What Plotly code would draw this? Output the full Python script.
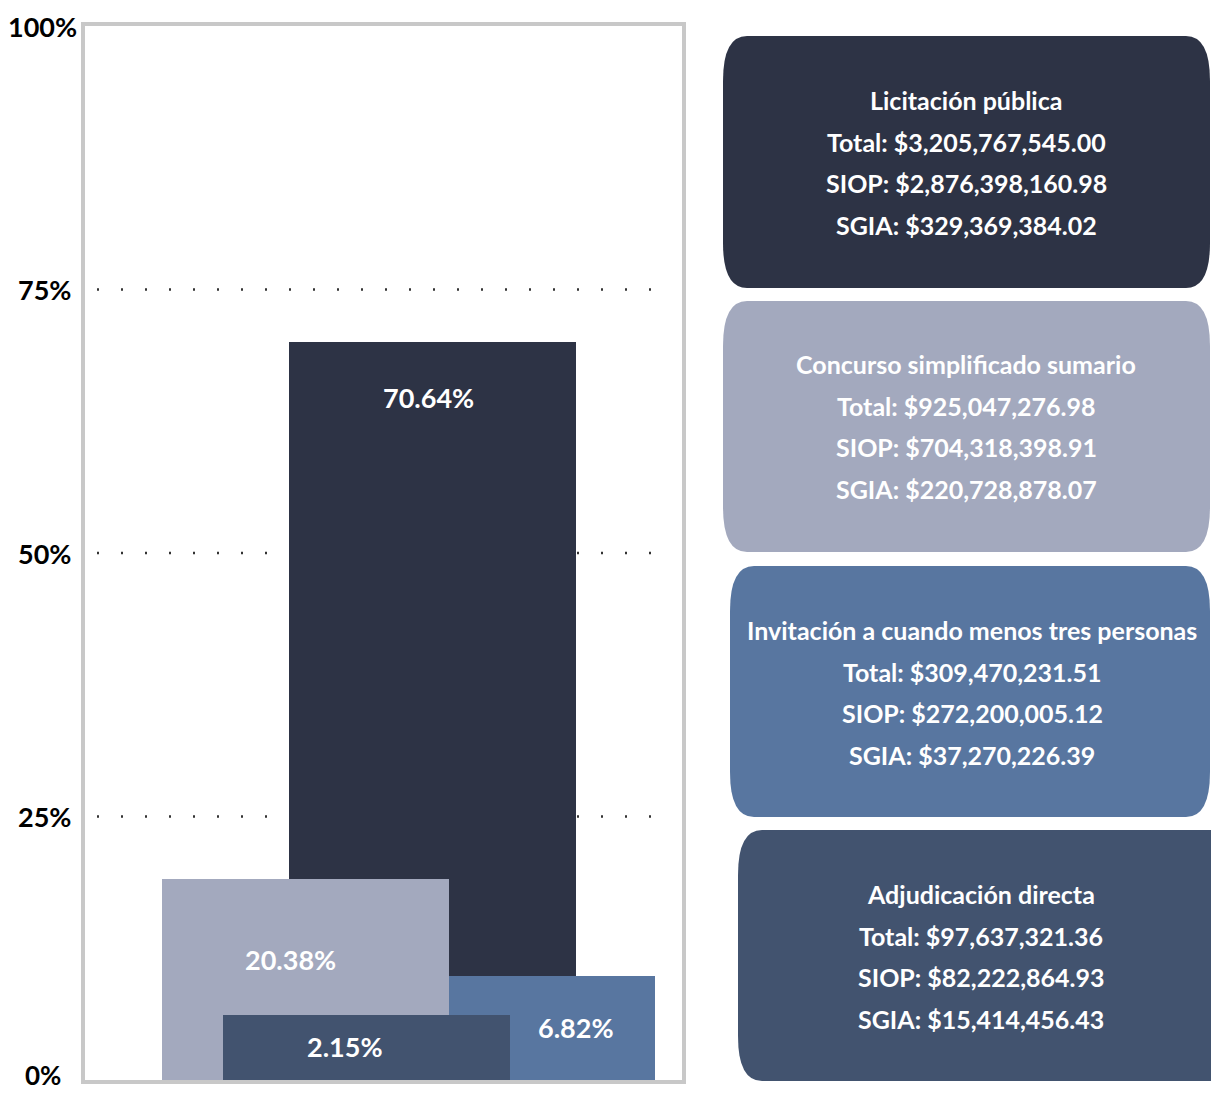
import plotly.graph_objects as go

# data
categories = ["Licitación pública", "Concurso simplificado sumario",
              "Invitación a cuando menos tres personas", "Adjudicación directa"]
share_labels = ["70.64%", "20.38%", "6.82%", "2.15%"]
bar_heights = [70.0, 19.05, 9.86, 6.16]  # drawn heights (% axis)
totals = ["$3,205,767,545.00", "$925,047,276.98", "$309,470,231.51", "$97,637,321.36"]
siop = ["$2,876,398,160.98", "$704,318,398.91", "$272,200,005.12", "$82,222,864.93"]
sgia = ["$329,369,384.02", "$220,728,878.07", "$37,270,226.39", "$15,414,456.43"]
y_ticks = [0, 25, 50, 75, 100]
y_tick_text = ["0%", "25%", "50%", "75%", "100%"]

colors = ["#2D3345", "#A3A9BE", "#5876A0", "#42536F"]

# layout geometry (pixels)
W, H = 1211, 1093
PL, PR, PT, PB = 85, 682, 26, 1080
bar_x = [432.5, 305, 511.5, 366.5]
bar_w = 287
draw_order = [0, 2, 1, 3]
label_pos = [(428, 397), (290, 959), (576, 1027), (345, 1046)]
tick_shift = [-22, -12, -12, -12, -6]
boxes = [  # x0, x1, y0, y1, text center x, first line y
    (723, 1210, 36, 288, 966, 100),
    (723, 1210, 301, 552, 966, 364),
    (730, 1210, 566, 817, 972, 630),
    (738, 1240, 830, 1081, 981, 894),
]
line_gap = 41.5
FONT = "Lato"


def px(x):
    return (x - PL) / (PR - PL)


def py(y):
    return (PB - y) / (PB - PT)


def yval(y):
    return (PB - y) / (PB - PT) * 100


fig = go.Figure()

for i in draw_order:
    fig.add_trace(go.Bar(
        x=[bar_x[i]], y=[bar_heights[i]], width=[bar_w],
        marker=dict(color=colors[i], line=dict(width=0)),
        name=categories[i], showlegend=False, hoverinfo="skip",
    ))

shapes = []
for v in [75, 50, 25]:
    shapes.append(dict(
        type="line", xref="x", yref="y", x0=97, x1=672, y0=v, y1=v,
        line=dict(color="#333333", width=2.5, dash="2px,22px"), layer="below",
    ))


def rounded_box(x0, x1, y0, y1, rx=24, ry=45):
    a0, a1 = px(x0), px(x1)
    b0, b1 = py(y1), py(y0)  # bottom, top in paper
    dx = rx / (PR - PL)
    dy = ry / (PB - PT)
    return (f"M {a0 + dx} {b1} L {a1 - dx} {b1} Q {a1} {b1} {a1} {b1 - dy} "
            f"L {a1} {b0 + dy} Q {a1} {b0} {a1 - dx} {b0} "
            f"L {a0 + dx} {b0} Q {a0} {b0} {a0} {b0 + dy} "
            f"L {a0} {b1 - dy} Q {a0} {b1} {a0 + dx} {b1} Z")


annotations = []
for i, (x0, x1, y0, y1, cx, ly) in enumerate(boxes):
    shapes.append(dict(
        type="path", xref="paper", yref="paper",
        path=rounded_box(x0, x1, y0, y1),
        fillcolor=colors[i], line=dict(width=0), layer="above",
    ))
    lines = [categories[i], f"Total: {totals[i]}", f"SIOP: {siop[i]}", f"SGIA: {sgia[i]}"]
    for k, t in enumerate(lines):
        annotations.append(dict(
            x=px(cx), y=py(ly + k * line_gap), xref="paper", yref="paper",
            text=f"<b>{t}</b>", showarrow=False, xanchor="center", yanchor="middle",
            font=dict(family=FONT, size=25, color="white"),
        ))

for i, (lx, ly) in enumerate(label_pos):
    annotations.append(dict(
        x=lx, y=yval(ly), xref="x", yref="y",
        text=f"<b>{share_labels[i]}</b>", showarrow=False,
        xanchor="center", yanchor="middle",
        font=dict(family=FONT, size=27, color="black" if False else "white"),
    ))

# y tick labels as annotations; 0% sits just under the axis as in the original
for v, t, s in zip(y_ticks, y_tick_text, tick_shift):
    bottom = v == 0
    annotations.append(dict(
        x=0, y=v, xref="paper", yref="y", xshift=s,
        yshift=-13 if bottom else 0,
        text=f"<b>{t}</b>", showarrow=False, xanchor="right",
        yanchor="bottom" if bottom else "middle",
        font=dict(family=FONT, size=26 if bottom else 27, color="black"),
    ))

fig.update_layout(
    width=W, height=H,
    margin=dict(l=PL, r=W - PR, t=PT, b=H - PB, pad=0, autoexpand=False),
    paper_bgcolor="white", plot_bgcolor="white",
    barmode="overlay", bargap=0,
    shapes=shapes, annotations=annotations,
    font=dict(family=FONT, color="black"),
    xaxis=dict(range=[PL, PR], showgrid=False, zeroline=False, showticklabels=False,
               automargin=False,
               showline=True, linecolor="#C8C8C8", linewidth=4, mirror=True, ticks=""),
    yaxis=dict(range=[0, 100], showgrid=False, zeroline=False, showticklabels=False,
               automargin=False,
               showline=True, linecolor="#C8C8C8", linewidth=4, mirror=True, ticks=""),
)

fig.write_html("out.html", config={"displayModeBar": False},
               post_script="document.body.style.margin='0';")
